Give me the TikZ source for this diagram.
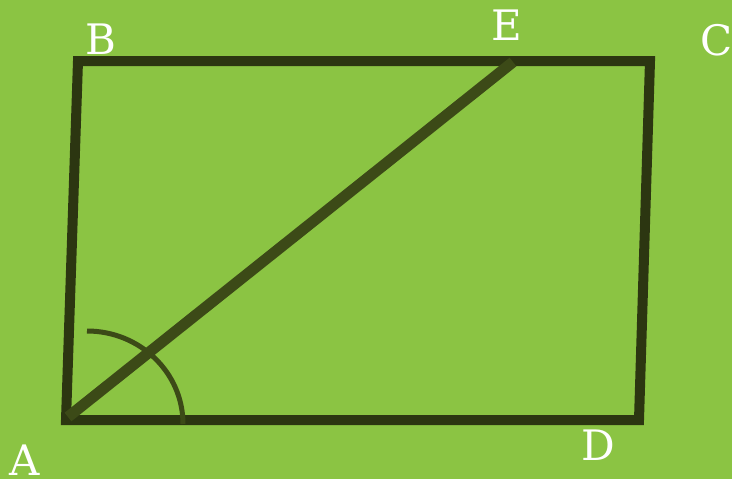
\documentclass[tikz,border=0pt]{standalone}
\usepackage{fontspec}
\setmainfont{DejaVu Serif}
\definecolor{bg}{HTML}{8BC443}
\definecolor{edge}{HTML}{2C3611}
\definecolor{diag}{HTML}{3C4A17}
\tikzset{
  lbl/.style={text=white, font=\fontsize{42}{42}\selectfont, anchor=base, inner sep=0pt},
  quad/.style={draw=edge, line width=10pt, line join=miter},
  diagline/.style={draw=diag, line width=11pt},
  anglearc/.style={draw=diag, line width=5pt}
}
\begin{document}
\begin{tikzpicture}[x=1pt,y=-1pt]
\fill[bg] (0,0) rectangle (732,479);
\useasboundingbox (0,0) rectangle (732,479);
\coordinate (A) at (66,420);
\coordinate (B) at (78,61);
\coordinate (C) at (650,61);
\coordinate (D) at (639,420);
\coordinate (E) at (513,62);
\coordinate (arcS) at (87,331);
\draw[quad] (A) -- (B) -- (C) -- (D) -- cycle;
\draw[diagline] (68,417) -- (E);
\draw[anglearc] (arcS) arc[start angle=90, end angle=0, x radius=96, y radius=-93];
\node[lbl] (lA) at (25,475) {A};
\node[lbl] (lB) at (101,54) {B};
\node[lbl] (lE) at (507,41) {E};
\node[lbl] (lC) at (717,55) {C};
\node[lbl] (lD) at (598,460) {D};
\end{tikzpicture}
\end{document}
